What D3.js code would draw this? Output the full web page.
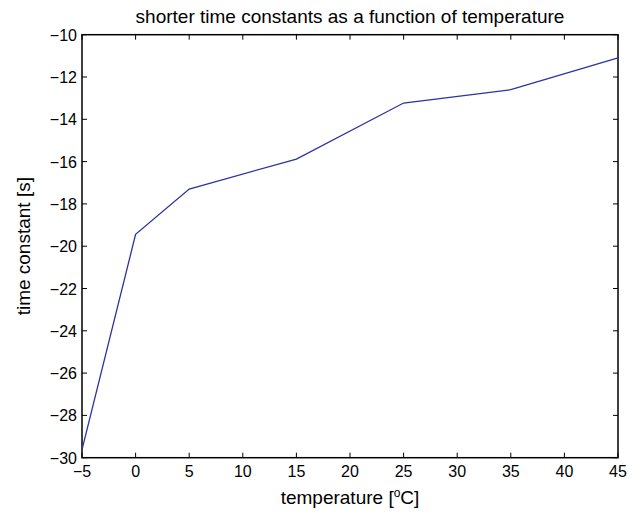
<!DOCTYPE html>
<html><head><meta charset="utf-8">
<script src="https://cdn.jsdelivr.net/npm/d3@7"></script>
<style>body{margin:0;background:#fff}svg{display:block}text{font-family:"Liberation Sans",Arial,sans-serif;fill:#000}</style>
</head><body><svg id="c" width="640" height="515"></svg>
<script>
const temperatures = [-5, 0, 5, 15, 25, 35, 45];
const timeConstants = [-29.62, -19.44, -17.3, -15.88, -13.23, -12.6, -11.09];
const xTicks = [-5, 0, 5, 10, 15, 20, 25, 30, 35, 40, 45];
const yTicks = [-30, -28, -26, -24, -22, -20, -18, -16, -14, -12, -10];

const svg = d3.select("#c");
const L = 82, R = 618, T = 34.7, B = 457.7;
const x = d3.scaleLinear().domain([-5, 45]).range([L, R]);
const y = d3.scaleLinear().domain([-30, -10]).range([B, T]);
const fmt = d => d < 0 ? "\u2212" + Math.abs(d) : String(d);

svg.append("rect").attr("x", L).attr("y", T).attr("width", R - L).attr("height", B - T)
  .attr("fill", "none").attr("stroke", "#000").attr("stroke-width", 1.5);

const tl = 5;
const g = svg.append("g").attr("stroke", "#000").attr("stroke-width", 1);
xTicks.forEach(t => {
  g.append("line").attr("x1", x(t)).attr("x2", x(t)).attr("y1", B).attr("y2", B - tl);
  g.append("line").attr("x1", x(t)).attr("x2", x(t)).attr("y1", T).attr("y2", T + tl);
});
yTicks.forEach(t => {
  g.append("line").attr("x1", L).attr("x2", L + tl).attr("y1", y(t)).attr("y2", y(t));
  g.append("line").attr("x1", R).attr("x2", R - tl).attr("y1", y(t)).attr("y2", y(t));
});

svg.append("g").selectAll("text").data(xTicks).join("text")
  .attr("x", d => x(d)).attr("y", B + 19).attr("text-anchor", "middle")
  .attr("font-size", 16).text(fmt);
svg.append("g").selectAll("text").data(yTicks).join("text")
  .attr("x", L - 5).attr("y", d => y(d) + 6).attr("text-anchor", "end")
  .attr("font-size", 16).text(fmt);

const line = d3.line().x((d, i) => x(temperatures[i])).y(d => y(d));
svg.append("path").datum(timeConstants).attr("d", line)
  .attr("fill", "none").attr("stroke", "#2a33a0").attr("stroke-width", 1.3);

svg.append("text").attr("x", (L + R) / 2).attr("y", 23).attr("text-anchor", "middle")
  .attr("font-size", 19).text("shorter time constants as a function of temperature");

const xl = svg.append("text").attr("x", (L + R) / 2).attr("y", 504).attr("text-anchor", "middle")
  .attr("font-size", 19);
xl.append("tspan").text("temperature [");
xl.append("tspan").attr("dy", -7).attr("font-size", 12).text("o");
xl.append("tspan").attr("dy", 7).text("C]");

svg.append("text").attr("transform", `translate(30,${(T + B) / 2}) rotate(-90)`)
  .attr("text-anchor", "middle").attr("font-size", 19).text("time constant [s]");
</script></body></html>
